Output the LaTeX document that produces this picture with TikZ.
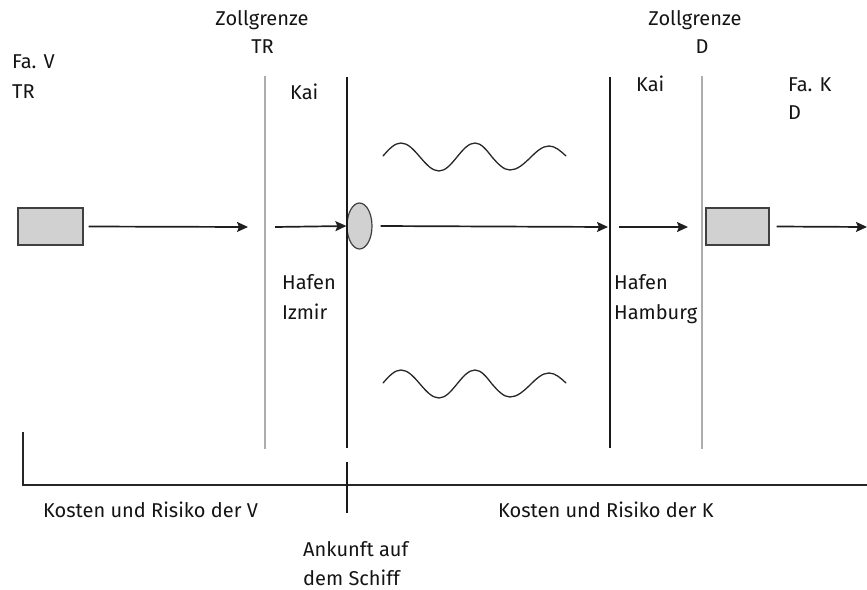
\documentclass[tikz,border=0pt]{standalone}
\usepackage{fontspec}
\setmainfont{Fira Sans}
\usetikzlibrary{arrows.meta,shapes.geometric}

\tikzset{
  lbl/.style={inner sep=0pt, font=\fontsize{20}{23}\selectfont, text=black!92},
  goods/.style={draw=black!75, line width=1.2pt, fill=black!18, inner sep=0pt},
  flow/.style={line width=1.7pt, draw=black!88, -{Stealth[length=11pt,width=10pt,inset=2pt]}},
  customs/.style={line width=2.6pt, draw=black!32},
  quay/.style={line width=1.4pt, draw=black!90},
  sea/.style={line width=1.3pt, draw=black!85},
  axis/.style={line width=1.8pt, draw=black!85},
}

\begin{document}
\begin{tikzpicture}[x=1pt,y=-1pt]
\useasboundingbox (0,0) rectangle (867,589);

% goods boxes and ship
\node[goods, minimum width=65pt, minimum height=37pt] (seller) at (50.5,226.5) {};
\node[goods, minimum width=63pt, minimum height=37pt] (buyer) at (737.5,226.5) {};
\node[goods, ellipse, minimum width=25pt, minimum height=46pt] (ship) at (359.5,226) {};

% boundary lines
\coordinate (ztrT) at (265,76);  \coordinate (ztrB) at (265,449);
\coordinate (izT)  at (347,77);  \coordinate (izB)  at (347,448);
\coordinate (hhT)  at (610,77);  \coordinate (hhB)  at (610,448);
\coordinate (zdT)  at (702,76);  \coordinate (zdB)  at (702,449);
\draw[customs] (ztrT) -- (ztrB);
\draw[customs] (zdT) -- (zdB);
\draw[quay] (izT) -- (izB);
\draw[quay] (hhT) -- (hhB);

% flow of goods
\coordinate (a1e) at (248,227);
\coordinate (a2s) at (275,227);
\coordinate (a3e) at (608,227);
\coordinate (a4s) at (619,227);
\coordinate (a4e) at (688,227);
\coordinate (a5e) at (867,227);
\draw[flow] (seller.east) ++(5,0) -- (a1e);
\draw[flow] (a2s) -- (ship.west);
\draw[flow] (ship.east) ++(8,0) -- (a3e);
\draw[flow] (a4s) -- (a4e);
\draw[flow] (buyer.east) ++(7,0) -- (a5e);

% sea waves
\foreach \dy in {0,227}{
  \draw[sea, line cap=round] (383,156+\dy) sin (401,143+\dy) cos (420,157+\dy) sin (439,171+\dy)
    cos (457,157+\dy) sin (475,143+\dy) cos (492,157+\dy) sin (510,170+\dy)
    cos (530,158+\dy) sin (549,146+\dy) cos (566,156+\dy);
}

% cost and risk axis
\coordinate (axL) at (23,485);
\coordinate (axR) at (867,485);
\coordinate (axLT) at (23,432);
\coordinate (tkT) at (347,462);
\coordinate (tkB) at (347,513);
\draw[axis] (axLT) -- (axL) -- (axR);
\draw[line width=1.4pt, draw=black!90] (tkT) -- (tkB);

% labels
\node[lbl, anchor=base west] (fav) at (12,68) {Fa. V};
\node[lbl, anchor=base west] (favc) at (12,98) {TR};
\node[lbl, anchor=base] (ztr) at (262,25) {Zollgrenze};
\node[lbl, anchor=base] (ztrc) at (262.5,53) {TR};
\node[lbl, anchor=base west] (kai1) at (290,99) {Kai};
\node[lbl, anchor=base west] (hiz1) at (282,289) {Hafen};
\node[lbl, anchor=base west] (hiz2) at (282,319) {Izmir};
\node[lbl, anchor=base] (zd) at (695,25) {Zollgrenze};
\node[lbl, anchor=base] (zdc) at (702,53) {D};
\node[lbl, anchor=base west] (kai2) at (636,91) {Kai};
\node[lbl, anchor=base west] (hhh1) at (614,289) {Hafen};
\node[lbl, anchor=base west] (hhh2) at (614,319) {Hamburg};
\node[lbl, anchor=base west] (fak) at (788,91) {Fa. K};
\node[lbl, anchor=base west] (fakc) at (788,119) {D};
\node[lbl, anchor=base west] (kv) at (43,517) {Kosten und Risiko der V};
\node[lbl, anchor=base west] (kk) at (498,517) {Kosten und Risiko der K};
\node[lbl, anchor=base west] (an1) at (303,556) {Ankunft auf};
\node[lbl, anchor=base west] (an2) at (303,585) {dem Schiff};
\end{tikzpicture}
\end{document}
